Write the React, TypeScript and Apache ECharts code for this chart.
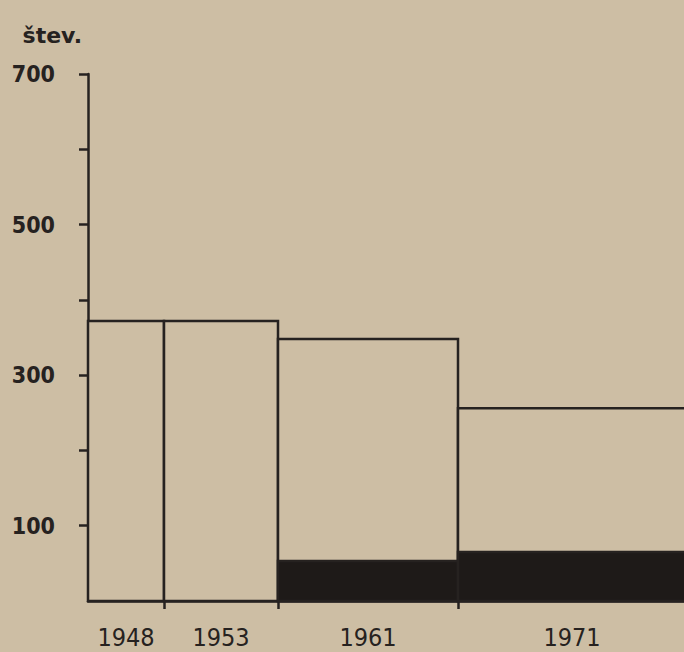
import React, { useEffect, useRef } from "react";
import * as echarts from "echarts";

// Periods (category labels under the x axis)
const periods = ["1948", "1953", "1961", "1971"];
// Relative width of each period's column (last one runs off the edge)
const spans = [76, 114, 180, 228];
// Total height of each column (števila)
const totals = [372, 372, 348, 256];
// Dark (filled) lower part of each column
const darkParts = [0, 0, 53, 65];
// Y axis ticks and labels
const yTicks = [100, 200, 300, 400, 500, 600, 700];
const yLabels = [100, 300, 500, 700];

const BG = "#cdbea4";
const INK = "#262220";
const NARROW = "'Liberation Sans Narrow', 'DejaVu Sans Condensed', sans-serif";
const COND = "'DejaVu Sans Condensed', 'DejaVu Sans', sans-serif";

export default function App() {
  const ref = useRef<HTMLDivElement>(null);

  useEffect(() => {
    if (!ref.current) return;
    const chart = echarts.init(ref.current, undefined, { renderer: "svg" });

    const starts: number[] = [];
    let acc = 0;
    spans.forEach((s) => {
      starts.push(acc);
      acc += s;
    });
    const xMax = acc;
    const boundaries = starts.slice(1);
    const centers = starts.map((s, i) => s + spans[i] / 2);

    const outlineData = periods.map((p, i) => [starts[i], starts[i] + spans[i], totals[i], p]);
    const darkData = periods
      .map((p, i) => [starts[i], starts[i] + spans[i], darkParts[i], p])
      .filter((d) => (d[2] as number) > 0);

    const makeRender = (fill: string) => (params: any, api: any) => {
      const a = api.coord([api.value(0), api.value(2)]);
      const b = api.coord([api.value(1), 0]);
      return {
        type: "rect",
        shape: { x: a[0], y: a[1], width: b[0] - a[0], height: b[1] - a[1] },
        style: { fill, stroke: INK, lineWidth: 2.5 },
      };
    };

    chart.setOption({
      animation: false,
      backgroundColor: BG,
      grid: { left: 88, top: 74, bottom: 51, width: xMax },
      xAxis: {
        type: "value",
        min: 0,
        max: xMax,
        splitLine: { show: false },
        axisLine: { show: true, lineStyle: { color: INK, width: 2.5 } },
        axisTick: {
          show: true,
          customValues: boundaries,
          length: 8,
          lineStyle: { color: INK, width: 2.5 },
        },
        axisLabel: {
          show: true,
          customValues: centers,
          formatter: (v: number) => {
            const i = centers.findIndex((c) => Math.abs(c - v) < 0.5);
            return i >= 0 ? periods[i] : "";
          },
          margin: 24,
          color: INK,
          fontFamily: NARROW,
          fontSize: 25,
        },
      },
      yAxis: {
        type: "value",
        min: 0,
        max: 700,
        name: "štev.",
        nameLocation: "end",
        nameGap: 28,
        nameTextStyle: {
          color: INK,
          fontFamily: "'DejaVu Sans', sans-serif",
          fontWeight: "bold",
          fontSize: 22,
          align: "right",
          padding: [0, 6, 0, 0],
        },
        splitLine: { show: false },
        axisLine: { show: true, lineStyle: { color: INK, width: 2.5 } },
        axisTick: {
          show: true,
          customValues: yTicks,
          length: 9,
          lineStyle: { color: INK, width: 2.5 },
        },
        axisLabel: {
          show: true,
          customValues: yLabels,
          margin: 33,
          color: INK,
          fontFamily: COND,
          fontWeight: "bold",
          fontSize: 23,
        },
      },
      series: [
        {
          type: "custom",
          name: "skupaj",
          renderItem: makeRender(BG),
          encode: { x: [0, 1], y: 2 },
          data: outlineData,
          z: 2,
        },
        {
          type: "custom",
          name: "del",
          renderItem: makeRender("#1e1a18"),
          encode: { x: [0, 1], y: 2 },
          data: darkData,
          z: 3,
        },
      ],
    });

    return () => chart.dispose();
  }, []);

  return (
    <div
      style={{
        position: "fixed",
        left: 0,
        top: 0,
        width: 684,
        height: 652,
        overflow: "hidden",
        background: BG,
      }}
    >
      <div ref={ref} style={{ width: 760, height: 652 }} />
    </div>
  );
}
